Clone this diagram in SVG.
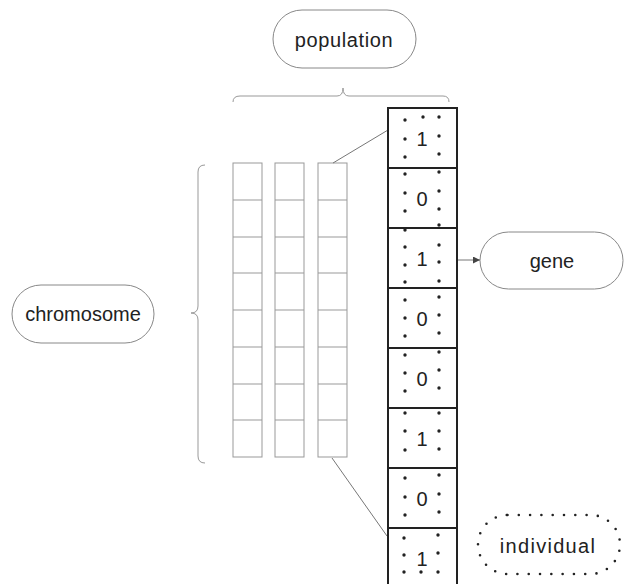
<svg xmlns="http://www.w3.org/2000/svg" width="625" height="584" viewBox="0 0 625 584">
<defs>
<style>
text{font-family:"Liberation Sans",Arial,sans-serif;font-size:20px;fill:#222;text-anchor:middle}
.pill{fill:#fff;stroke:#888;stroke-width:1}
.small{fill:#fff;stroke:#999;stroke-width:1}
.big{fill:#fff;stroke:#222;stroke-width:2}
.brace{fill:none;stroke:#999;stroke-width:1}
.conn{fill:none;stroke:#777;stroke-width:1}
.dot circle{fill:#222;r:1.7px}
</style>
<marker id="ah" viewBox="0 0 10 10" refX="10" refY="5" markerWidth="7" markerHeight="7" orient="auto" markerUnits="userSpaceOnUse">
<path d="M0,0 L10,5 L0,10 z" fill="#444"/>
</marker>
</defs>
<rect width="625" height="584" fill="#fff"/>

<g id="population">
<rect class="pill" x="273" y="10" width="143" height="58" rx="29"/>
<text x="344" y="47" letter-spacing="0.6">population</text>
</g>

<g id="chromosome">
<rect class="pill" x="12" y="285" width="142" height="58" rx="29"/>
<text x="83" y="321">chromosome</text>
</g>

<g id="gene">
<rect class="pill" x="480" y="232" width="143" height="57" rx="28.5"/>
<text x="552" y="268">gene</text>
</g>

<g id="individual">
<rect x="478" y="515" width="142" height="59" rx="29.5" fill="#fff" stroke="#222" stroke-width="2.6" stroke-dasharray="0 11.3" stroke-linecap="round"/>
<text x="548" y="553" letter-spacing="1.3">individual</text>
</g>

<g id="braces">
<path class="brace" d="M233,102 Q233,96 240,96 L337,96 Q343,96 343,88 Q343,96 349,96 L443,96 Q449,96 449,102"/>
<path class="brace" d="M205,165 Q198,165 198,172 L198,306 Q198,313 191,313 Q198,313 198,320 L198,456 Q198,463 205,463"/>
</g>

<g id="small-columns">
<g id="col1">
<rect class="small" x="233" y="163" width="29" height="294"/>
<path class="small" d="M233,200H262M233,237H262M233,273H262M233,310H262M233,347H262M233,384H262M233,420H262"/>
</g>
<g id="col2">
<rect class="small" x="275" y="163" width="29" height="294"/>
<path class="small" d="M275,200H304M275,237H304M275,273H304M275,310H304M275,347H304M275,384H304M275,420H304"/>
</g>
<g id="col3">
<rect class="small" x="318" y="163" width="29" height="294"/>
<path class="small" d="M318,200H347M318,237H347M318,273H347M318,310H347M318,347H347M318,384H347M318,420H347"/>
</g>
</g>

<g id="connectors">
<path class="conn" d="M333,163 L388,130"/>
<path class="conn" d="M332,458 L387,536"/>
<path class="conn" d="M430,260 L480,260" marker-end="url(#ah)"/>
</g>

<g id="individual-column">
<rect class="big" x="388" y="108" width="69" height="60"/>
<rect class="big" x="388" y="168" width="69" height="60"/>
<rect class="big" x="388" y="228" width="69" height="60"/>
<rect class="big" x="388" y="288" width="69" height="60"/>
<rect class="big" x="388" y="348" width="69" height="60"/>
<rect class="big" x="388" y="408" width="69" height="60"/>
<rect class="big" x="388" y="468" width="69" height="60"/>
<rect class="big" x="388" y="528" width="69" height="60"/>
<g class="dot">
<circle cx="405" cy="120" r="1.7"/><circle cx="405" cy="139" r="1.7"/><circle cx="405" cy="157" r="1.7"/>
<circle cx="405" cy="174" r="1.7"/><circle cx="405" cy="193" r="1.7"/><circle cx="405" cy="211" r="1.7"/>
<circle cx="405" cy="230" r="1.7"/><circle cx="405" cy="247" r="1.7"/><circle cx="405" cy="265" r="1.7"/><circle cx="405" cy="282" r="1.7"/>
<circle cx="405" cy="300" r="1.7"/><circle cx="405" cy="318" r="1.7"/><circle cx="405" cy="336" r="1.7"/>
<circle cx="405" cy="355" r="1.7"/><circle cx="405" cy="373" r="1.7"/><circle cx="405" cy="391" r="1.7"/>
<circle cx="405" cy="413" r="1.7"/><circle cx="405" cy="431" r="1.7"/><circle cx="405" cy="450" r="1.7"/>
<circle cx="405" cy="478" r="1.7"/><circle cx="405" cy="497" r="1.7"/><circle cx="405" cy="515" r="1.7"/>
<circle cx="404" cy="538" r="1.7"/><circle cx="404" cy="555" r="1.7"/><circle cx="404" cy="572" r="1.7"/>
<circle cx="439" cy="117" r="1.7"/><circle cx="439" cy="136" r="1.7"/><circle cx="439" cy="154" r="1.7"/>
<circle cx="439" cy="172" r="1.7"/><circle cx="439" cy="191" r="1.7"/><circle cx="439" cy="209" r="1.7"/>
<circle cx="439" cy="225" r="1.7"/><circle cx="439" cy="245" r="1.7"/><circle cx="439" cy="262" r="1.7"/><circle cx="439" cy="281" r="1.7"/>
<circle cx="439" cy="297" r="1.7"/><circle cx="439" cy="315" r="1.7"/><circle cx="439" cy="333" r="1.7"/>
<circle cx="439" cy="352" r="1.7"/><circle cx="439" cy="370" r="1.7"/><circle cx="439" cy="388" r="1.7"/>
<circle cx="439" cy="413" r="1.7"/><circle cx="439" cy="431" r="1.7"/><circle cx="439" cy="449" r="1.7"/>
<circle cx="439" cy="475" r="1.7"/><circle cx="439" cy="494" r="1.7"/><circle cx="439" cy="512" r="1.7"/>
<circle cx="438" cy="535" r="1.7"/><circle cx="438" cy="553" r="1.7"/><circle cx="438" cy="572" r="1.7"/>
<circle cx="423" cy="117" r="1.7"/><circle cx="421" cy="572" r="1.7"/>
</g>
<text x="422" y="146">1</text>
<text x="422" y="206">0</text>
<text x="422" y="266">1</text>
<text x="422" y="326">0</text>
<text x="422" y="386">0</text>
<text x="422" y="446">1</text>
<text x="422" y="506">0</text>
<text x="422" y="566">1</text>
</g>
</svg>
